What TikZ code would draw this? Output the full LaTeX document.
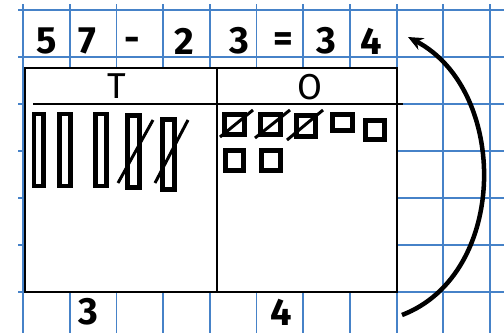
\documentclass[tikz,border=0pt]{standalone}
\usepackage{fontspec}
\setmainfont{Fira Sans}
\usetikzlibrary{arrows.meta}
\definecolor{gridblue}{RGB}{70,130,200}

\tikzset{
  digit/.style={font=\fontsize{38}{38}\selectfont\bfseries, inner sep=0pt},
  colhead/.style={font=\fontsize{36}{36}\selectfont, inner sep=0pt},
  rod/.style={line width=4.5pt},
  unitbox/.style={line width=4.5pt},
  crossout/.style={line width=3pt},
  gridline/.style={gridblue, line width=1.8pt}
}

\begin{document}
\begin{tikzpicture}[x=1pt,y=-1pt]
  \useasboundingbox (0,0) rectangle (504,333);
  % squared paper
  \foreach \i in {0,...,10} \draw[gridline] (23+46.7*\i,4) -- (23+46.7*\i,333);
  \foreach \j in {0,...,6} \draw[gridline] (18,10+47*\j) -- (504,10+47*\j);

  % the number sentence
  \node[digit] (a5) at (47,41) {5};
  \node[digit] (a7) at (87,41) {7};
  \node[digit] (minus) at (132,44) {-};
  \node[digit] (b2) at (184,41) {2};
  \node[digit] (b3) at (239,41) {3};
  \node[digit] (eq) at (283,42) {=};
  \node[digit] (r3) at (326,41) {3};
  \node[digit] (r4) at (371,41) {4};

  % place value chart
  \draw[line width=2.5pt, fill=white] (25,68) rectangle (397,292);
  \draw[line width=2.5pt] (217,68) -- (217,292);
  \draw[line width=2.5pt] (33,104) -- (403,104);
  \node[colhead] (tens) at (117,86) {T};
  \node[colhead] (ones) at (310,87) {O};

  % tens
  \draw[rod] (34,114) rectangle (43.7,186);
  \draw[rod] (59.3,114) rectangle (70.7,186);
  \draw[rod] (95.3,114) rectangle (106.7,186);
  \draw[rod] (127.3,115.3) rectangle (139.7,187.7);
  \draw[rod] (162.3,119.3) rectangle (174.7,189.7);
  \draw[crossout] (118,183) -- (153,120);
  \draw[crossout] (155,183) -- (188,120);

  % ones
  \draw[unitbox] (224.3,114.3) rectangle (244.7,134.7);
  \draw[unitbox] (260.3,114.3) rectangle (280.7,134.7);
  \draw[unitbox] (296.3,115.3) rectangle (315.7,136.7);
  \draw[unitbox] (332.3,114.3) rectangle (352.7,130.7);
  \draw[unitbox] (365.3,120.3) rectangle (384.7,139.7);
  \draw[unitbox] (225.3,150.3) rectangle (243.7,170.7);
  \draw[unitbox] (261.3,150.3) rectangle (280.7,170.7);
  \draw[crossout] (220,137) -- (253,110);
  \draw[crossout] (255,138) -- (290,110);
  \draw[crossout] (287,140) -- (323,110);

  % answer under the chart
  \node[digit] (t3) at (88,312) {3};
  \node[digit] (o4) at (281,312) {4};

  % curved arrow back to the answer
  \coordinate (tail) at (402,315);
  \coordinate (head) at (408,37);
  \draw[line width=4.5pt, -{Stealth[length=15pt,width=13pt]}]
    (tail) .. controls (509,274) and (509,90) .. (head);
\end{tikzpicture}
\end{document}
